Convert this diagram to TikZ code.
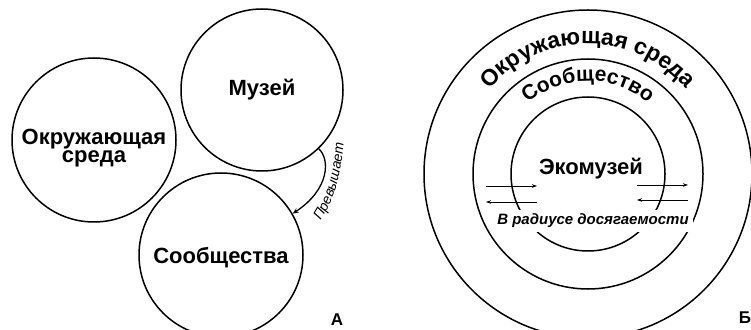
\documentclass[tikz,border=0pt]{standalone}
\usepackage{fontspec}
\setmainfont{Liberation Sans}
\usetikzlibrary{decorations.text, arrows.meta}
\begin{document}
\begin{tikzpicture}[x=1pt,y=1pt,
  ring/.style={draw, circle, line width=1.5pt, inner sep=0pt},
  bigtext/.style={font=\fontsize{22}{12.5}\selectfont\bfseries, align=center, inner sep=0pt},
  thinarrow/.style={line width=0.8pt, -{Stealth[length=5pt,width=3.5pt]}},
  panellabel/.style={font=\fontsize{17}{17}\selectfont\bfseries, inner sep=0pt},
]
\useasboundingbox[fill=white] (0,0) rectangle (751,329);

% ---------- Panel A ----------
\node[ring, minimum size=164pt] (env) at (94,189) {};
\node[ring, minimum size=162pt] (mus) at (262,239) {};
\node[ring, minimum size=164pt] (comm) at (221,74) {};
\node[bigtext] (envt) at (94,181) {Окружающая\\среда};
\node[bigtext] (must) at (262,239) {Музей};
\node[bigtext] (commt) at (221,71) {Сообщества};

\draw[line width=1.3pt, -{Stealth[length=6pt,width=5pt]}]
  (mus.-46) .. controls (330,170) and (330,140) .. (comm.30);
\path[decorate, decoration={text along path, text align=center,
  text={|\fontsize{14}{14}\selectfont\itshape|Превышает}}]
  (316,102) .. controls (334,124) and (343,160) .. (344,194);

\node[panellabel] (la) at (337,9) {А};

% ---------- Panel B ----------
\node[ring, minimum size=328pt] (outer) at (588,155) {};
\node[ring, minimum size=230pt] (middle) at (588,155) {};
\node[ring, minimum size=154pt] (inner) at (588,155) {};

\path[decorate, decoration={text along path, text align=center,
  text={|\fontsize{23}{23}\selectfont\bfseries|Окружающая среда}}]
  ([shift={(150:130)}]outer.center) arc[start angle=150, end angle=30, radius=130];
\path[decorate, decoration={text along path, text align=center,
  text={|\fontsize{21}{21}\selectfont\bfseries|Сообщество}}]
  ([shift={(150:93)}]middle.center) arc[start angle=150, end angle=30, radius=93];

\node[bigtext] (eco) at (591,160) {Экомузей};
\node[font=\fontsize{15}{15}\selectfont\bfseries\itshape, fill=white, inner sep=4pt] (reach) at (593,108) {В радиусе досягаемости};

\coordinate (l1a) at (486,143); \coordinate (l1b) at (537,143);
\coordinate (l2a) at (537,127); \coordinate (l2b) at (486,127);
\coordinate (r1a) at (637,144); \coordinate (r1b) at (688,144);
\coordinate (r2a) at (688,129); \coordinate (r2b) at (637,129);
\draw[thinarrow] (l1a) -- (l1b);
\draw[thinarrow] (l2a) -- (l2b);
\draw[thinarrow] (r1a) -- (r1b);
\draw[thinarrow] (r2a) -- (r2b);

\node[panellabel] (lb) at (745,11) {Б};
\end{tikzpicture}
\end{document}
